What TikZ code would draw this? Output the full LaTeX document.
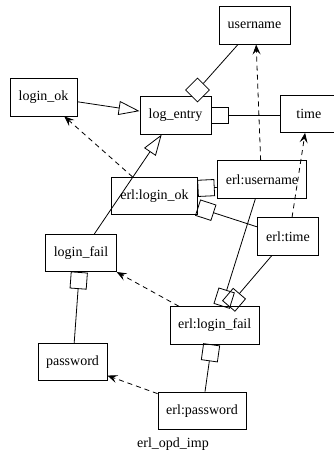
\documentclass[tikz,border=0pt]{standalone}
\usepackage{fontspec}
\setmainfont{Liberation Serif}
\usetikzlibrary{arrows.meta,shapes.geometric}
\begin{document}
\begin{tikzpicture}[x=1pt,y=-1pt,
  cls/.style={draw, line width=0.8pt, inner sep=0pt, minimum height=37.3pt,
    font=\fontsize{14}{16}\selectfont},
  link/.style={line width=0.8pt},
  gen/.style={link, -{Triangle[open,length=21pt,width=14pt]}},
  sq/.style={link, {Square[open,length=17pt,width=17pt]}-},
  dep/.style={link, dash pattern=on 5pt off 4pt,
    -{Stealth[length=10pt,width=8pt,inset=4pt]}},
]
\useasboundingbox (0,0) rectangle (334,450);

% classes and their instances
\node[cls, minimum width=71pt] (username) at (254.5,25.5) {username};
\node[cls, minimum width=67pt, minimum height=38pt] (loginok) at (43.5,97) {login\_ok};
\node[cls, minimum width=71pt] (logentry) at (175.5,115.5) {log\_entry};
\node[cls, minimum width=56pt] (time) at (308.8,113.8) {time};
\node[cls, minimum width=85.5pt] (erlloginok) at (154.5,196) {erl:login\_ok};
\node[cls, minimum width=89.7pt] (erlusername) at (262,179.5) {erl:username};
\node[cls, minimum width=60.6pt] (erltime) at (288,236.3) {erl:time};
\node[cls, minimum width=70.6pt] (loginfail) at (81,253) {login\_fail};
\node[cls, minimum width=89.3pt] (erlloginfail) at (214.7,325.3) {erl:login\_fail};
\node[cls, minimum width=69pt] (password) at (72.5,362.2) {password};
\node[cls, minimum width=88pt] (erlpassword) at (202,410.7) {erl:password};
\node[font=\fontsize{14}{16}\selectfont] (caption) at (173,444) {erl\_opd\_imp};

% aggregation diamond on log_entry
\node[draw, diamond, line width=0.8pt, fill=white, inner sep=0pt,
  minimum width=24pt, minimum height=24pt] (agg) at (197.5,90) {};

% class relations
\draw[link] (username.229) -- (agg);
\draw[gen] (loginok.-8) -- (logentry.173);
\draw[gen] (loginfail.55) -- (logentry.234);
\draw[sq] (logentry.east) -- (logentry.east -| time.west);
\draw[sq] (loginfail.265.7) -- (password.85.5);

% instance relations
\draw[sq] (erlloginok.10.7) -- (erlusername.190.8);
\draw[sq] (erlloginok.-15.6) -- (erltime.163.5);
\draw[sq] (erlloginfail.70) -- (erlusername.251);
\draw[sq] (erlloginfail.54.4) -- (erltime.230.8);
\draw[sq] (erlloginfail.261.2) -- (erlpassword.81.8);

% instance-of dependencies
\draw[dep] (erlloginok.139) -- (loginok.-43.5);
\draw[dep] (erlusername.94.6) -- (username.-85.4);
\draw[dep] (erltime.78.7) -- (time.-101.4);
\draw[dep] (erlloginfail.152.9) -- (loginfail.south east);
\draw[dep] (erlpassword.159.6) -- (password.-21.4);
\end{tikzpicture}
\end{document}
